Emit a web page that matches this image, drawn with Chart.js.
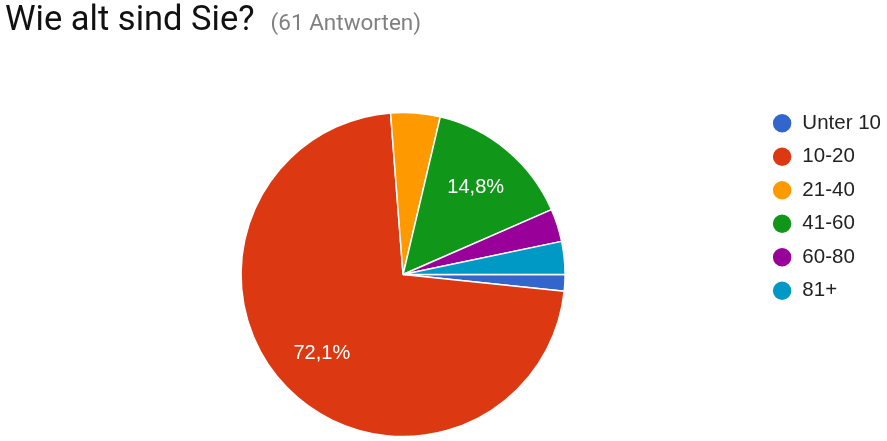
<!DOCTYPE html>
<html>
<head>
<meta charset="utf-8">
<script src="https://cdn.jsdelivr.net/npm/chart.js@4/dist/chart.umd.min.js"></script>
<style>
  html, body { margin: 0; padding: 0; background: #fff; overflow: hidden; }
  #wrap { position: relative; width: 887px; height: 441px; overflow: hidden; }
  #title { position: absolute; left: 5px; top: -2px; line-height: 40px; white-space: nowrap;
           font-family: Roboto, sans-serif; font-size: 34.5px; color: #111; }
  #title span { font-size: 22.5px; color: #808080; margin-left: 16px; }
  #box { position: absolute; left: 0; top: 0; width: 887px; height: 460px; }
</style>
</head>
<body>
<div id="wrap">
  <div id="box"><canvas id="ageChart"></canvas></div>
  <div id="title">Wie alt sind Sie?<span>(61 Antworten)</span></div>
</div>
<script>
const categories = ["Unter 10", "10-20", "21-40", "41-60", "60-80", "81+"];
const answers = [1, 44, 3, 9, 2, 2];
const sliceColors = ["#3366cc", "#dc3912", "#ff9900", "#109618", "#990099", "#0099c6"];

const total = answers.reduce((a, b) => a + b, 0);

// percent labels inside the big slices
const sliceLabelPlugin = {
  id: 'sliceLabelPlugin',
  afterDatasetsDraw(chart) {
    const { ctx } = chart;
    const meta = chart.getDatasetMeta(0);
    ctx.save();
    ctx.font = "20px 'Liberation Sans', Arial, sans-serif";
    ctx.fillStyle = "#fff";
    ctx.textAlign = "center";
    ctx.textBaseline = "middle";
    meta.data.forEach((arc, i) => {
      const pct = answers[i] / total * 100;
      if (pct < 10) return;
      const mid = (arc.startAngle + arc.endAngle) / 2;
      const r = arc.outerRadius * 0.7;
      const x = arc.x + Math.cos(mid) * r;
      const y = arc.y + Math.sin(mid) * r;
      ctx.fillText(pct.toFixed(1).replace('.', ',') + '%', x, y);
    });
    ctx.restore();
  }
};

const ageCtx = document.getElementById("ageChart").getContext("2d");

const ageChart = new Chart(ageCtx, {
  type: "pie",
  data: {
    labels: categories,
    datasets: [{
      data: answers,
      backgroundColor: sliceColors,
      borderColor: "#fff",
      borderWidth: 1.5,
      radius: 162
    }]
  },
  options: {
    responsive: true,
    maintainAspectRatio: false,
    animation: false,
    rotation: 90,
    layout: {
      padding: { top: 100, bottom: 11, left: 47, right: -4 }
    },
    plugins: {
      legend: {
        display: true,
        position: 'right',
        align: 'start',
        labels: {
          usePointStyle: true,
          pointStyle: 'circle',
          pointStyleWidth: 20,
          boxHeight: 14,
          padding: 13,
          color: "#222",
          font: { family: "'Liberation Sans', Arial, sans-serif", size: 20.5 }
        }
      },
      tooltip: { enabled: false }
    }
  },
  plugins: [sliceLabelPlugin]
});
</script>
</body>
</html>
